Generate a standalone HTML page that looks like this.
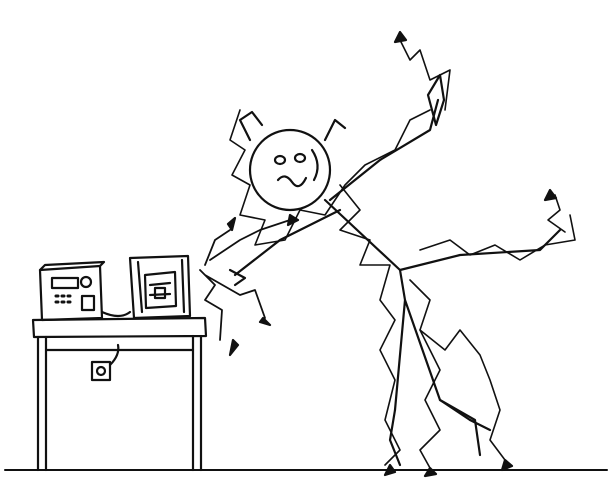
<!DOCTYPE html>
<html><head><style>html,body{margin:0;padding:0;background:#fff;width:612px;height:503px;overflow:hidden}</style></head>
<body>
<svg width="612" height="503" viewBox="0 0 612 503" xmlns="http://www.w3.org/2000/svg" fill="none" stroke="#111" stroke-width="2.2" stroke-linecap="round" stroke-linejoin="round">
<!-- ground -->
<path d="M5 470 L607 470" stroke-width="2"/>
<!-- table -->
<path d="M33 320 L205 318 L206 336 L34 337 Z"/>
<path d="M38 337 L38 470 M46 337 L46 470 M193 336 L193 470 M201 336 L201 470"/>
<path d="M46 350 L193 350"/>
<rect x="92" y="362" width="18" height="18"/><circle cx="101" cy="371" r="4"/>
<path d="M110 365 Q120 355 118 345"/>
<!-- device -->
<path d="M40 270 L100 266 L102 318 L42 320 Z"/>
<path d="M40 270 L45 265 L104 262 L100 266"/>
<rect x="52" y="278" width="26" height="10"/>
<circle cx="86" cy="282" r="5"/>
<path d="M56 296 h2 M62 296 h2 M68 296 h2 M56 302 h2 M62 302 h2 M68 302 h2" stroke-width="3"/>
<rect x="82" y="296" width="12" height="14"/>
<path d="M102 312 Q120 320 130 312"/>
<!-- computer -->
<path d="M130 258 L134 318 L190 316 L188 256 Z M138 262 L142 312 M182 260 L184 312"/>
<path d="M145 275 L175 272 L176 306 L146 308 Z M150 285 L170 283 M150 295 L170 294"/>
<rect x="155" y="288" width="10" height="10"/>
<!-- head -->
<circle cx="290" cy="170" r="40"/>
<ellipse cx="280" cy="160" rx="5" ry="4"/><ellipse cx="300" cy="158" rx="5" ry="4"/>
<path d="M278 180 Q285 172 292 182 T306 178"/>
<path d="M312 150 Q322 165 314 180"/>
<path d="M250 140 L240 120 L252 112 L262 125 M325 140 L335 120 L345 128"/>
<!-- body -->
<path d="M325 200 L400 270 L405 300 L395 410 M405 300 L440 400 L470 420"/>
<path d="M395 410 L390 440 L400 465 M440 400 L475 420 L480 455 M470 420 L490 430"/>
<!-- arms -->
<path d="M330 200 L380 160 L430 130 L438 100 M340 210 L280 240 L235 275"/>
<path d="M400 270 L460 255 L540 250 L560 230"/>
<path d="M428 95 L440 75 L444 100 L436 125 Z"/>
<path d="M230 270 L245 278 L235 285"/>
<!-- lightning outlines -->
<path d="M240 110 L230 140 L245 150 L232 175 L250 185 L240 215 L265 220 L255 245 L285 240 L300 210 L325 215 L345 185 L365 165 L395 150 L410 120 L430 110" stroke-width="1.6"/>
<path d="M340 185 L360 210 L340 230 L370 240 L360 265 L390 265 L380 300 L395 320 L380 350 L395 380 L385 420 L400 450 L385 465" stroke-width="1.6"/>
<path d="M420 250 L450 240 L470 255 L495 245 L520 260 L545 245 L575 240 L570 215" stroke-width="1.6"/>
<path d="M410 280 L430 300 L420 330 L445 350 L460 330 L480 355 L490 380 L500 410 L490 440 L505 460" stroke-width="1.6"/>
<path d="M420 330 L440 370 L425 400 L440 430 L420 450 L430 468" stroke-width="1.6"/>
<path d="M400 40 L410 60 L420 50 L430 80 L450 70 L445 110" stroke-width="1.6"/>
<path d="M555 195 L560 210 L548 220 L565 232" stroke-width="1.6"/>
<!-- sparks -->
<path d="M200 270 L215 285 L205 300 L222 310 L220 340 M205 275 L240 295 L255 290 L265 318 M205 265 L215 240 L230 230 M210 260 L240 240 L260 230 L290 220" stroke-width="1.8"/>
<path d="M233 340 L230 355 L238 345 Z M263 318 L270 325 L260 322 Z M228 224 L235 218 L232 230 Z M290 215 L298 220 L288 225 Z M400 32 L395 42 L406 40 Z M550 190 L545 200 L556 198 Z" fill="#111"/>
<path d="M390 465 L385 475 L395 472 Z M430 468 L425 476 L436 474 Z M505 460 L502 470 L512 466 Z" fill="#111"/>
</svg>
</body></html>
